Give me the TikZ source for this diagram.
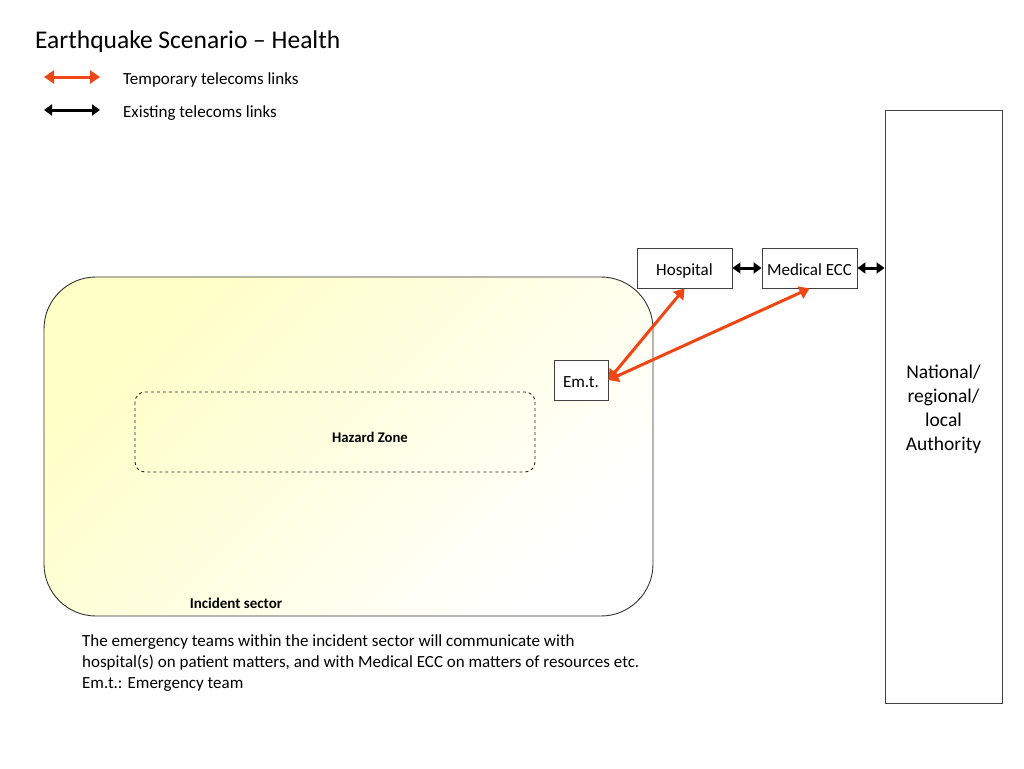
\documentclass[tikz,border=0pt]{standalone}
\usepackage{fontspec}
\setmainfont{Carlito}
\usetikzlibrary{arrows.meta}
\definecolor{tempred}{RGB}{240,70,20}
\definecolor{sectyellow}{RGB}{255,255,198}
\tikzset{
  box/.style={draw=black!75, line width=0.9pt, fill=white, inner sep=0pt, font=\fontsize{17}{20}\selectfont},
  small/.style={text height=14pt, text depth=0pt},
  temp/.style={draw=tempred, line width=3pt, {Triangle[length=10pt,width=13pt]}-{Triangle[length=10pt,width=13pt]}},
  exist/.style={draw=black, line width=3pt, {Triangle[length=8pt,width=11pt]}-{Triangle[length=8pt,width=11pt]}},
  txt/.style={inner sep=0pt, anchor=west, font=\fontsize{17}{20}\selectfont}
}
\begin{document}
\begin{tikzpicture}[x=1pt,y=-1pt]
\useasboundingbox (0,0) rectangle (1024,768);
% incident sector
\path[left color=sectyellow, right color=white, shading angle=45] (44,277) [rounded corners=52pt] rectangle (653,616);
\draw[black!80, line width=0.9pt, rounded corners=52pt] (44,277) rectangle (653,616);
\node[inner sep=0pt, font=\bfseries\fontsize{15}{18}\selectfont] (sectlbl) at (236,603) {Incident sector};
% hazard zone
\draw[black!85, line width=0.9pt, dashed, rounded corners=10pt] (135,392) rectangle (535,472);
\node[inner sep=0pt, font=\bfseries\fontsize{14.7}{18}\selectfont] (hazard) at (370,437) {Hazard Zone};
% boxes
\node[box, small, minimum width=54pt, minimum height=40pt] (emt) at (581,380) {Em.t.};
\node[box, small, minimum width=95pt, minimum height=40pt] (hosp) at (684.5,268) {Hospital};
\node[box, small, minimum width=95pt, minimum height=40pt] (ecc) at (809.5,268) {Medical ECC};
\node[box, minimum width=117pt, minimum height=593pt, align=center, font=\fontsize{19.5}{24}\selectfont] (auth) at (943.5,406.5) {\rule{0pt}{19pt}National/\\regional/\\local\\Authority};
% links
\draw[exist] (hosp.east) -- (ecc.east -| ecc.west);
\draw[exist] (ecc.east) -- (ecc.east -| auth.west);
\draw[temp] (hosp.south) -- (emt.east);
\draw[temp] (ecc.south) -- (emt.east);
% title and legend
\node[txt, font=\fontsize{25.5}{30}\selectfont] (title) at (35,42) {Earthquake Scenario – Health};
\coordinate (l1a) at (44,77); \coordinate (l1b) at (100,77);
\coordinate (l2a) at (44,110); \coordinate (l2b) at (100,110);
\draw[temp] (l1a) -- (l1b);
\draw[exist] (l2a) -- (l2b);
\node[txt] (lt1) at (123,80) {Temporary telecoms links};
\node[txt] (lt2) at (123,113) {Existing telecoms links};
% footer
\node[txt, anchor=north west, align=left, font=\fontsize{17}{21}\selectfont] (foot) at (82,634) {The emergency teams within the incident sector will communicate with\\hospital(s) on patient matters, and with Medical ECC on matters of resources etc.\\Em.t.: Emergency team};
\end{tikzpicture}
\end{document}
